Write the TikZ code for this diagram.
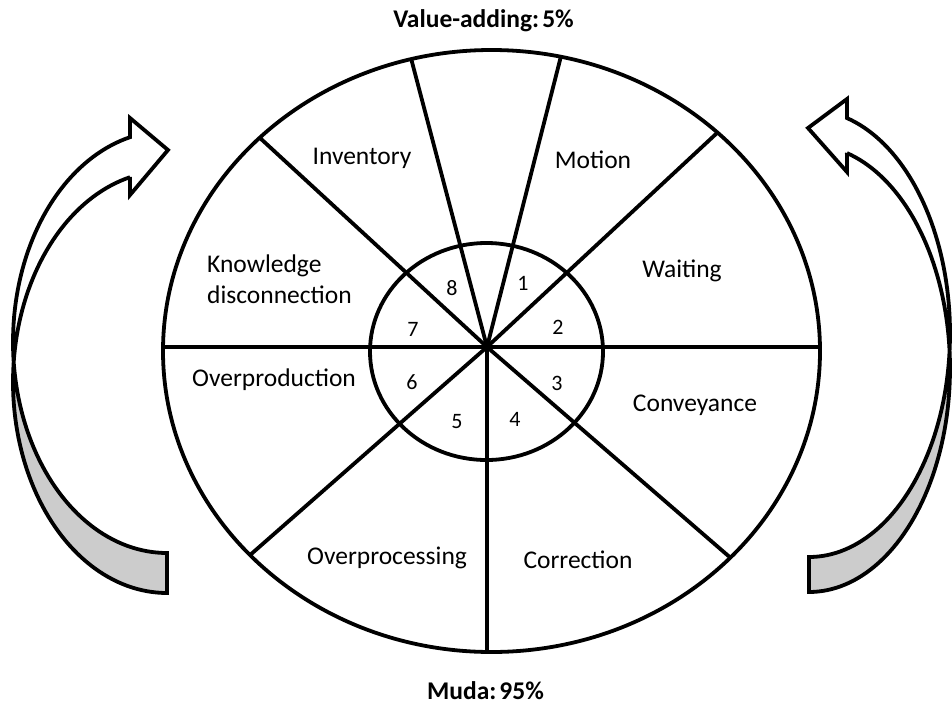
\documentclass[tikz,border=0pt]{standalone}
\usepackage{fontspec}
\setmainfont{Carlito}
\begin{document}
\begin{tikzpicture}[x=1pt,y=-1pt, line join=miter,
  ln/.style={line width=3.8pt},
  lbl/.style={font=\fontsize{25.5}{30}\selectfont, inner sep=0pt, anchor=base},
  num/.style={font=\fontsize{22}{26}\selectfont, inner sep=0pt},
  ttl/.style={font=\fontsize{25.5}{30}\selectfont\bfseries, inner sep=0pt, anchor=base},
  backface/.style={fill=black!20}]
\useasboundingbox (0,0) rectangle (952,707);
\coordinate (hub) at (487,347);
\coordinate (oc) at (491.5,351);
\coordinate (ic) at (486.5,351.5);

% spokes clipped to the outer ellipse
\begin{scope}
\clip (oc) ellipse [x radius=328.5pt, y radius=301pt];
\foreach \dx/\dy in {-75/-285, 73/-287, -227/-209, 230/-214, -400/0, 400/0, -87.7/77, 0/400, 86.3/74.7}
  \draw[ln] (hub) -- ++(\dx*3,\dy*3);
\end{scope}
\draw[ln] (oc) ellipse [x radius=328.5pt, y radius=301pt];
\draw[ln] (ic) ellipse [x radius=116.5pt, y radius=108.5pt];

% left curved arrow
\fill[backface] plot[domain=185.44:90,samples=50] ({167+154*cos(\x)},{382+211*sin(\x)})
  -- plot[domain=90:174.56,samples=50] ({167+154*cos(\x)},{342+211*sin(\x)}) -- cycle;
\draw[ln] (130,118) -- (168,150) -- (130,195) -- (130,177)
  -- plot[domain=256.1:90,samples=90] ({167+154*cos(\x)},{382+211*sin(\x)})
  -- plot[domain=90:256.1,samples=90] ({167+154*cos(\x)},{342+211*sin(\x)}) -- cycle;

% right curved arrow
\fill[backface] plot[domain=-4.46:90,samples=50] ({809+141*cos(\x)},{368.4+223.6*sin(\x)})
  -- plot[domain=90:4.51,samples=50] ({809+141*cos(\x)},{333.4+223.6*sin(\x)}) -- cycle;
\draw[ln] (847,99) -- (808,128) -- (847,172) -- (847,153)
  -- plot[domain=-74.37:90,samples=90] ({809+141*cos(\x)},{368.4+223.6*sin(\x)})
  -- plot[domain=90:-74.37,samples=90] ({809+141*cos(\x)},{333.4+223.6*sin(\x)}) -- cycle;

% labels
\node[lbl] (inv) at (362,164) {Inventory};
\node[lbl] (mot) at (593,168) {Motion};
\node[lbl] (wai) at (682,277) {Waiting};
\node[lbl, anchor=base west] (kn1) at (207,272) {Knowledge};
\node[lbl, anchor=base west] (kn2) at (207,303.5) {disconnection};
\node[lbl] (ovp) at (274,386) {Overproduction};
\node[lbl] (con) at (695,411) {Conveyance};
\node[lbl] (ovr) at (387,564) {Overprocessing};
\node[lbl] (cor) at (578,568) {Correction};

\node[num] (n1) at (523,283) {1};
\node[num] (n2) at (558,327) {2};
\node[num] (n3) at (557,383) {3};
\node[num] (n4) at (515,419) {4};
\node[num] (n5) at (457,422) {5};
\node[num] (n6) at (412,382) {6};
\node[num] (n7) at (413,329) {7};
\node[num] (n8) at (452,288) {8};

\node[ttl] (va) at (483.5,27.5) {Value-adding:\hspace{0.12em}5\%};
\node[ttl] (muda) at (485.5,699) {Muda:\hspace{0.12em}95\%};
\end{tikzpicture}
\end{document}
